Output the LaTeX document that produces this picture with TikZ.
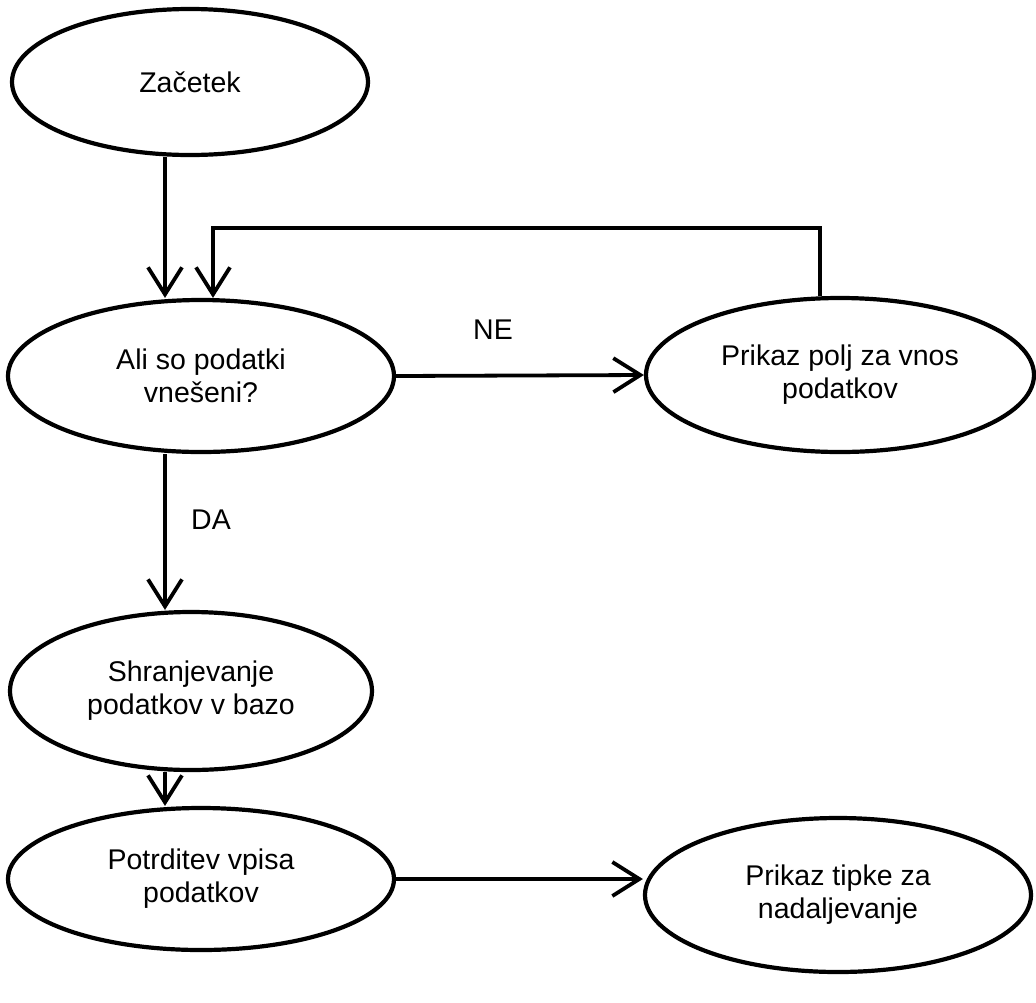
\documentclass[tikz,border=0pt]{standalone}
\usepackage{fontspec}
\setmainfont{Liberation Sans}
\usetikzlibrary{shapes.geometric,arrows.meta}
\begin{document}
\begin{tikzpicture}[x=1pt,y=-1pt,
  oval/.style={ellipse,draw,line width=4.2pt,inner sep=0pt,align=center,
     font=\fontsize{28.5}{33}\selectfont},
  arr/.style={line width=3.8pt,-{Straight Barb[length=27pt,width=34pt,line width=3.8pt]}},
  lbl/.style={font=\fontsize{28.5}{33}\selectfont}]
\useasboundingbox (0,0) rectangle (1036,1002);
\node[oval,minimum width=356pt,minimum height=146pt] (zac) at (190,82) {Začetek};
\node[oval,minimum width=386pt,minimum height=152pt] (ali) at (201,376) {Ali so podatki\\vnešeni?};
\node[oval,minimum width=388pt,minimum height=154pt] (p1) at (840,375) {Prikaz polj za vnos\\podatkov};
\node[oval,minimum width=362pt,minimum height=158pt] (shr) at (191,691) {Shranjevanje\\podatkov v bazo};
\node[oval,minimum width=386pt,minimum height=142pt] (pot) at (201,879) {Potrditev vpisa\\podatkov};
\node[oval,minimum width=386pt,minimum height=154pt] (tip) at (838,895) {Prikaz tipke za\\nadaljevanje};
\node[lbl] (ne) at (493,330) {NE};
\node[lbl] (da) at (211,520) {DA};
\draw[arr] ([xshift=-25pt]zac.south) -- ([xshift=-36pt]ali.north);
\draw[arr] ([xshift=-20pt]p1.north) -- ++(0,-68) -| ([xshift=12pt]ali.north);
\draw[arr] (ali.east) -- (p1.west);
\draw[arr] ([xshift=-36pt]ali.south) -- ([xshift=-26pt]shr.north);
\draw[arr] ([xshift=-26pt]shr.south) -- ([xshift=-36pt]pot.north);
\draw[arr] (pot.east) -- (pot.east -| tip.west);
\end{tikzpicture}
\end{document}
